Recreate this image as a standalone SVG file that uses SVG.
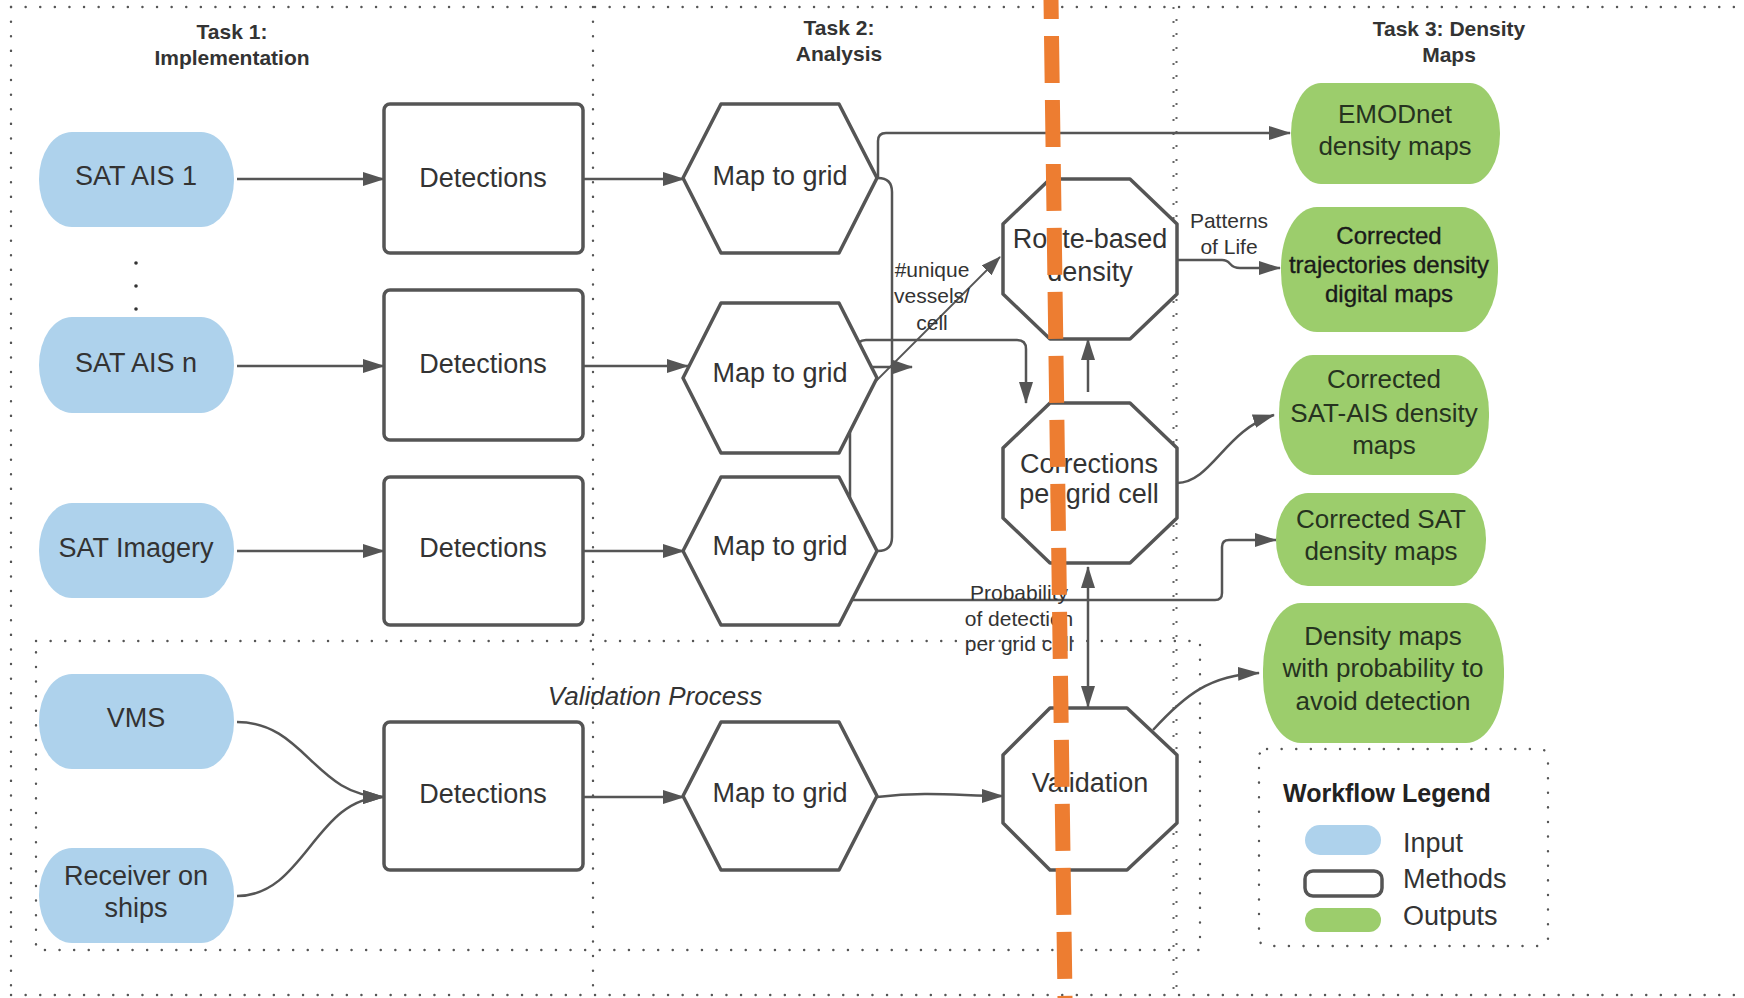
<svg xmlns="http://www.w3.org/2000/svg" width="1744" height="998" viewBox="0 0 1744 998">
<defs>
<marker id="arr" viewBox="0 0 22 14" refX="21" refY="7" markerWidth="22" markerHeight="14" markerUnits="userSpaceOnUse" orient="auto-start-reverse"><path d="M0,0 L22,7 L0,14 z" fill="#555"/></marker>
<marker id="arrs" viewBox="0 0 20 14" refX="19" refY="7" markerWidth="20" markerHeight="14" markerUnits="userSpaceOnUse" orient="auto-start-reverse"><path d="M0,0 L20,7 L0,14 z" fill="#555"/></marker>
</defs>
<style>
.dot{fill:none;stroke:#555;stroke-width:2.4;stroke-dasharray:0.1 14.5;stroke-linecap:round}
.dot2{fill:none;stroke:#666;stroke-width:2;stroke-dasharray:2 12}
.inp{fill:#aed2ec}
.out{fill:#9ccd6c}
.meth{fill:#fff;stroke:#555;stroke-width:3.5;stroke-linejoin:round}
.t{font-family:"Liberation Sans",Arial,sans-serif;font-size:27px;fill:#333;text-anchor:middle}
.to{font-family:"Liberation Sans",Arial,sans-serif;font-size:26px;fill:#26331f;text-anchor:middle}
.tb{font-family:"Liberation Sans",Arial,sans-serif;font-size:21px;font-weight:bold;fill:#333;text-anchor:middle}
.lbl{font-family:"Liberation Sans",Arial,sans-serif;font-size:21px;fill:#333;text-anchor:middle}
.c{fill:none;stroke:#555;stroke-width:2.5}
.tr{font-size:24px;fill:#1a1a1a;stroke:#1a1a1a;stroke-width:0.35}
</style>
<rect width="1744" height="998" fill="#fff"/>
<g id="frames">
<line class="dot" x1="11" y1="7" x2="1744" y2="7"/>
<line class="dot" x1="11" y1="7" x2="11" y2="995"/>
<line class="dot" x1="11" y1="995" x2="1744" y2="995"/>
<line class="dot" x1="593" y1="7" x2="593" y2="995"/>
<line class="dot2" x1="1173.5" y1="7" x2="1173.5" y2="995"/>
<line class="dot2" x1="1176.5" y1="7" x2="1176.5" y2="995" stroke-dashoffset="2"/>
<rect class="dot" x="36" y="641" width="1164" height="309"/>
<rect class="dot" x="1259" y="749" width="289" height="197" rx="8"/>
</g>
<g id="titles">
<text class="tb" x="232" y="39">Task 1:</text>
<text class="tb" x="232" y="65">Implementation</text>
<text class="tb" x="839" y="35">Task 2:</text>
<text class="tb" x="839" y="61">Analysis</text>
<text class="tb" x="1449" y="36">Task 3: Density</text>
<text class="tb" x="1449" y="62">Maps</text>
<text x="655" y="705" style="font-family:'Liberation Sans',Arial,sans-serif;font-size:26px;font-style:italic;fill:#333;text-anchor:middle">Validation Process</text>
</g>
<g id="connectors">
<path class="c" d="M237,179 L384,179" marker-end="url(#arr)"/>
<path class="c" d="M237,366 L384,366" marker-end="url(#arr)"/>
<path class="c" d="M237,551 L384,551" marker-end="url(#arr)"/>
<path class="c" d="M237,722 C305,722 315,797 384,797" marker-end="url(#arr)"/>
<path class="c" d="M237,896 C305,896 315,797 384,797" marker-end="url(#arr)"/>
<path class="c" d="M583,179 L684,179" marker-end="url(#arr)"/>
<path class="c" d="M583,366 L688,366" marker-end="url(#arr)"/>
<path class="c" d="M583,551 L684,551" marker-end="url(#arr)"/>
<path class="c" d="M583,797 L684,797" marker-end="url(#arr)"/>
<path class="c" d="M877,797 C930,791 960,796 1003,796" marker-end="url(#arr)"/>
<path class="c" d="M878,178 L878,141 Q878,133 886,133 L1290,133" marker-end="url(#arr)"/>
<path class="c" d="M878,178 Q892,178 892,192 L892,537 Q892,551 878,551"/>
<path class="c" d="M850,551 L850,415"/>
<path class="c" d="M857,362 L857,349 Q857,340 866,340 L1017,340 Q1026,340 1026,349 L1026,403" marker-end="url(#arr)"/>
<path class="c" d="M857,355 Q857,367 866,367 L912,367" marker-end="url(#arrs)"/>
<path class="c" style="stroke-width:1.8" d="M872,385 L1000,257" marker-end="url(#arrs)"/>
<path class="c" d="M853,600 L1215,600 Q1222,600 1222,593 L1222,547 Q1222,540 1229,540 L1276,540" marker-end="url(#arr)"/>
<path class="c" d="M1088,392 L1088,339" marker-end="url(#arr)"/>
<path class="c" d="M1088,567 L1088,707" marker-start="url(#arr)" marker-end="url(#arr)"/>
<path class="c" d="M1177,260 L1222,260 C1232,260 1228,268 1240,268 L1280,268" marker-end="url(#arr)"/>
<path class="c" d="M1177,483 C1212,482 1225,430 1274,415" marker-end="url(#arr)"/>
<path class="c" d="M1153,730 C1185,695 1210,675 1259,673" marker-end="url(#arr)"/>
</g>
<g id="labels">
<text class="lbl" x="1229" y="228">Patterns</text>
<text class="lbl" x="1229" y="254">of Life</text>
<text class="lbl" x="932" y="277">#unique</text>
<text class="lbl" x="932" y="303">vessels/</text>
<text class="lbl" x="932" y="330">cell</text>
<text class="lbl" x="1019" y="600">Probability</text>
<text class="lbl" x="1019" y="626">of detection</text>
<text class="lbl" x="1019" y="651">per grid cell</text>
</g>
<g id="sat-ais-1"><rect class="inp" x="39" y="132" width="195" height="95" rx="33" ry="47"/><text class="t" x="136" y="185">SAT AIS 1</text></g>
<g id="dots"><circle cx="136" cy="263" r="1.8" fill="#333"/><circle cx="136" cy="286" r="1.8" fill="#333"/><circle cx="136" cy="309" r="1.8" fill="#333"/></g>
<g id="sat-ais-n"><rect class="inp" x="39" y="317" width="195" height="96" rx="33" ry="48"/><text class="t" x="136" y="372">SAT AIS n</text></g>
<g id="sat-imagery"><rect class="inp" x="39" y="503" width="195" height="95" rx="33" ry="47"/><text class="t" x="136" y="557">SAT Imagery</text></g>
<g id="vms"><rect class="inp" x="39" y="674" width="195" height="95" rx="33" ry="47"/><text class="t" x="136" y="727">VMS</text></g>
<g id="receiver"><rect class="inp" x="39" y="848" width="195" height="95" rx="33" ry="47"/><text class="t" x="136" y="885">Receiver on</text><text class="t" x="136" y="917">ships</text></g>
<g id="det-1"><rect class="meth" x="384" y="104" width="199" height="149" rx="6"/><text class="t" x="483" y="187">Detections</text></g>
<g id="det-2"><rect class="meth" x="384" y="290" width="199" height="150" rx="6"/><text class="t" x="483" y="373">Detections</text></g>
<g id="det-3"><rect class="meth" x="384" y="477" width="199" height="148" rx="6"/><text class="t" x="483" y="557">Detections</text></g>
<g id="det-4"><rect class="meth" x="384" y="722" width="199" height="148" rx="6"/><text class="t" x="483" y="803">Detections</text></g>
<g id="map-1"><polygon class="meth" points="683,178 721,104 839,104 877,178 839,253 721,253"/><text class="t" x="780" y="185">Map to grid</text></g>
<g id="map-2"><polygon class="meth" points="683,378 721,303 839,303 877,378 839,453 721,453"/><text class="t" x="780" y="382">Map to grid</text></g>
<g id="map-3"><polygon class="meth" points="683,551 721,477 839,477 877,551 839,625 721,625"/><text class="t" x="780" y="555">Map to grid</text></g>
<g id="map-4"><polygon class="meth" points="683,796 721,722 839,722 877,796 839,870 721,870"/><text class="t" x="780" y="802">Map to grid</text></g>
<g id="route-based"><polygon class="meth" points="1050,179 1130,179 1177,224 1177,294 1130,339 1050,339 1003,294 1003,224"/><text class="t" x="1090" y="248">Route-based</text><text class="t" x="1090" y="281">density</text></g>
<g id="corrections"><polygon class="meth" points="1050,403 1130,403 1177,448 1177,518 1130,563 1050,563 1003,518 1003,448"/><text class="t" x="1089" y="473">Corrections</text><text class="t" x="1089" y="503">per grid cell</text></g>
<g id="validation"><polygon class="meth" points="1050,708 1127,708 1177,755 1177,823 1127,870 1050,870 1003,823 1003,755"/><text class="t" x="1090" y="792">Validation</text></g>
<g id="emodnet"><rect class="out" x="1291" y="83" width="209" height="101" rx="30" ry="50"/><text class="to" x="1395" y="123">EMODnet</text><text class="to" x="1395" y="155">density maps</text></g>
<g id="corr-traj"><rect class="out" x="1281" y="207" width="217" height="125" rx="36" ry="60"/><text class="to tr" x="1389" y="244">Corrected</text><text class="to tr" x="1389" y="273">trajectories density</text><text class="to tr" x="1389" y="302">digital maps</text></g>
<g id="corr-sat-ais"><rect class="out" x="1279" y="355" width="210" height="120" rx="34" ry="58"/><text class="to" x="1384" y="388">Corrected</text><text class="to" x="1384" y="422">SAT-AIS density</text><text class="to" x="1384" y="454">maps</text></g>
<g id="corr-sat"><rect class="out" x="1276" y="493" width="210" height="93" rx="32" ry="46"/><text class="to" x="1381" y="528">Corrected SAT</text><text class="to" x="1381" y="560">density maps</text></g>
<g id="density-prob"><rect class="out" x="1263" y="603" width="241" height="140" rx="38" ry="66"/><text class="to" x="1383" y="645">Density maps</text><text class="to" x="1383" y="677">with probability to</text><text class="to" x="1383" y="710">avoid detection</text></g>
<g id="legend">
<text x="1283" y="802" style="font-family:'Liberation Sans',Arial,sans-serif;font-size:25px;font-weight:bold;fill:#222">Workflow Legend</text>
<rect class="inp" x="1305" y="825" width="76" height="30" rx="15"/>
<rect x="1305" y="871" width="77" height="25" rx="8" fill="#fff" stroke="#555" stroke-width="3.5"/>
<rect class="out" x="1305" y="908" width="76" height="24" rx="12"/>
<text x="1403" y="852" style="font-family:'Liberation Sans',Arial,sans-serif;font-size:27px;fill:#333">Input</text>
<text x="1403" y="888" style="font-family:'Liberation Sans',Arial,sans-serif;font-size:27px;fill:#333">Methods</text>
<text x="1403" y="925" style="font-family:'Liberation Sans',Arial,sans-serif;font-size:27px;fill:#333">Outputs</text>
</g>
<g id="orange-line"><line x1="1051" y1="0" x2="1065" y2="998" stroke="#ed7d31" stroke-width="15" stroke-dasharray="47 17" stroke-dashoffset="28"/></g>
</svg>
